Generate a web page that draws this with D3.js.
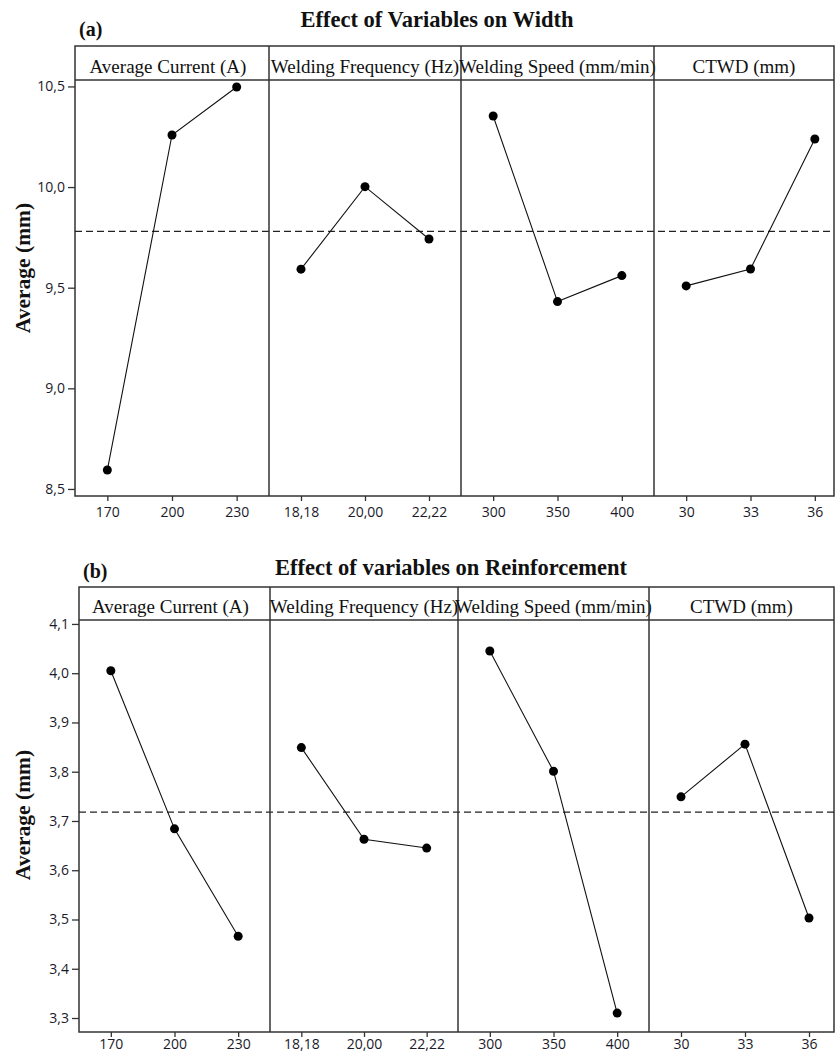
<!DOCTYPE html>
<html><head><meta charset="utf-8">
<script src="https://cdn.jsdelivr.net/npm/d3@7"></script>
<style>
html,body{margin:0;padding:0;background:#fff;}
svg{display:block;}
</style></head>
<body>
<svg id="chart" width="835" height="1055"></svg>
<script>
// ---------------- DATA ----------------
const factorNames = ["Average Current (A)", "Welding Frequency (Hz)", "Welding Speed (mm/min)", "CTWD (mm)"];
const currentLevels = ["170", "200", "230"];
const frequencyLevels = ["18,18", "20,00", "22,22"];
const speedLevels = ["300", "350", "400"];
const ctwdLevels = ["30", "33", "36"];

const widthCurrent = [8.594, 10.259, 10.497];
const widthFrequency = [9.592, 10.002, 9.742];
const widthSpeed = [10.353, 9.431, 9.560];
const widthCTWD = [9.509, 9.593, 10.239];
const widthMean = 9.78;
const widthTicks = [8.5, 9.0, 9.5, 10.0, 10.5];

const reinfCurrent = [4.005, 3.684, 3.466];
const reinfFrequency = [3.849, 3.663, 3.645];
const reinfSpeed = [4.045, 3.801, 3.310];
const reinfCTWD = [3.749, 3.856, 3.503];
const reinfMean = 3.718;
const reinfTicks = [3.3, 3.4, 3.5, 3.6, 3.7, 3.8, 3.9, 4.0, 4.1];

const levelSets = [currentLevels, frequencyLevels, speedLevels, ctwdLevels];

// ---------------- LAYOUT ----------------
const svg = d3.select("#chart");
const fmt = v => d3.format(".1f")(v).replace(".", ",");

const charts = [
  {
    label: "(a)", title: "Effect of Variables on Width",
    series: [widthCurrent, widthFrequency, widthSpeed, widthCTWD],
    mean: widthMean, ticks: widthTicks,
    labelY: 36, titleY: 27, titleX: 437,
    frameTop: 46, headerBottom: 80, axisY: 496, frameRight: 834,
    edges: [75, 269, 461, 654, 847],
    domain: [8.465, 10.532], yLabelY: 268, xPad: 6
  },
  {
    label: "(b)", title: "Effect of variables on Reinforcement",
    series: [reinfCurrent, reinfFrequency, reinfSpeed, reinfCTWD],
    mean: reinfMean, ticks: reinfTicks,
    labelY: 578, titleY: 575, titleX: 451,
    frameTop: 587, headerBottom: 620, axisY: 1032, frameRight: 834,
    edges: [79, 270, 458, 649, 841],
    domain: [3.2716, 4.108], yLabelY: 815, xPad: 2
  }
];

const stroke = "#333";

charts.forEach(c => {
  const g = svg.append("g");
  const left = c.edges[0];
  const y = d3.scaleLinear().domain(c.domain).range([c.axisY, c.headerBottom]);

  // Label and title
  g.append("text").attr("x", left + 4).attr("y", c.labelY)
    .attr("font-family", "Liberation Serif, Times New Roman, serif")
    .attr("font-weight", "bold").attr("font-size", 20).attr("fill", "#111")
    .text(c.label);
  g.append("text").attr("x", c.titleX).attr("y", c.titleY)
    .attr("text-anchor", "middle")
    .attr("font-family", "Liberation Serif, Times New Roman, serif")
    .attr("font-weight", "bold").attr("font-size", 22.5).attr("fill", "#111")
    .text(c.title);

  // Y axis label
  g.append("text")
    .attr("transform", `translate(30,${c.yLabelY}) rotate(-90)`)
    .attr("text-anchor", "middle")
    .attr("font-family", "Liberation Serif, Times New Roman, serif")
    .attr("font-weight", "bold").attr("font-size", 21.5).attr("fill", "#111")
    .text("Average (mm)");

  // Frame
  g.append("rect")
    .attr("x", left).attr("y", c.frameTop)
    .attr("width", c.frameRight - left).attr("height", c.axisY - c.frameTop)
    .attr("fill", "none").attr("stroke", stroke).attr("stroke-width", 1.5);
  g.append("line")
    .attr("x1", left).attr("x2", c.frameRight)
    .attr("y1", c.headerBottom).attr("y2", c.headerBottom)
    .attr("stroke", stroke).attr("stroke-width", 1.5);

  // Y axis
  const yAxis = d3.axisLeft(y).tickValues(c.ticks).tickFormat(fmt).tickSize(7).tickPadding(3);
  const ya = g.append("g").attr("transform", `translate(${left},0)`).call(yAxis);
  ya.select(".domain").remove();
  ya.selectAll("line").attr("stroke", stroke).attr("stroke-width", 1.3);
  ya.selectAll("text").attr("font-family", "Open Sans, sans-serif").attr("font-size", 14).attr("fill", "#1a1a2a");

  // Mean line
  g.append("line")
    .attr("x1", left).attr("x2", c.frameRight)
    .attr("y1", y(c.mean)).attr("y2", y(c.mean))
    .attr("stroke", "#222").attr("stroke-width", 1.3)
    .attr("stroke-dasharray", "7,4");

  // Panels
  for (let i = 0; i < 4; i++) {
    const x0 = c.edges[i], x1 = c.edges[i + 1];
    const x = d3.scalePoint().domain(levelSets[i]).range([x0, x1]).padding(0.5);
    if (i > 0) {
      g.append("line").attr("x1", x0).attr("x2", x0)
        .attr("y1", c.frameTop).attr("y2", c.axisY)
        .attr("stroke", stroke).attr("stroke-width", 1.5);
    }
    const xRight = Math.min(x1, c.frameRight);
    g.append("text")
      .attr("x", (x0 + xRight) / 2 - (i === 0 ? 4 : 0))
      .attr("y", c.headerBottom - 7)
      .attr("text-anchor", "middle")
      .attr("font-family", "Liberation Serif, Times New Roman, serif")
      .attr("font-size", 19).attr("fill", "#111")
      .text(factorNames[i]);

    const xAxis = d3.axisBottom(x).tickSize(5).tickPadding(c.xPad);
    const xa = g.append("g").attr("transform", `translate(0,${c.axisY})`).call(xAxis);
    xa.select(".domain").remove();
    xa.selectAll("line").attr("stroke", stroke).attr("stroke-width", 1.3);
    xa.selectAll("text").attr("font-family", "Open Sans, sans-serif").attr("font-size", 14).attr("fill", "#1a1a2a");

    const pts = levelSets[i].map((lv, k) => ({ lv, v: c.series[i][k] }));
    g.append("path").datum(pts)
      .attr("d", d3.line().x(d => x(d.lv)).y(d => y(d.v)))
      .attr("fill", "none").attr("stroke", "#111").attr("stroke-width", 1.1);
    g.selectAll(null).data(pts).enter().append("circle")
      .attr("cx", d => x(d.lv)).attr("cy", d => y(d.v)).attr("r", 4.5)
      .attr("fill", "#000");
  }
});
</script>
</body></html>
